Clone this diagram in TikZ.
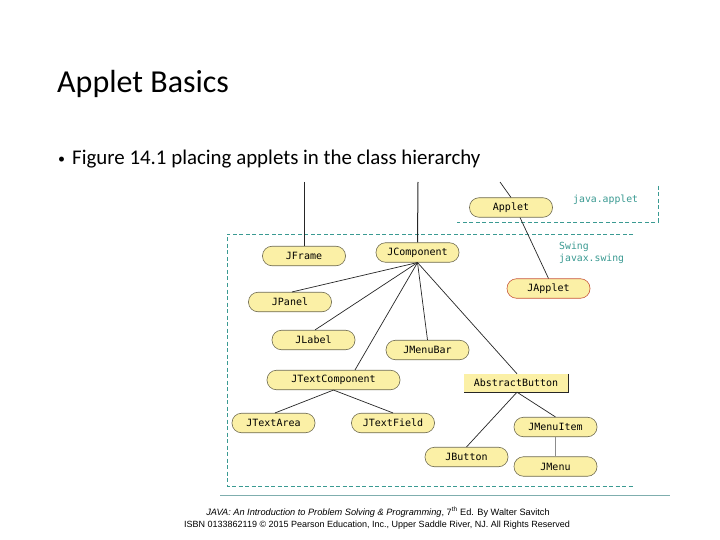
\documentclass[tikz,border=0pt]{standalone}
\usepackage{fontspec}
\setmainfont{Carlito}
\newfontfamily\monof{DejaVu Sans Mono}
\newfontfamily\footf{Liberation Sans}
\usetikzlibrary{calc}
\definecolor{pillfill}{HTML}{FBF0A6}
\definecolor{pilldraw}{HTML}{6E6A50}
\definecolor{tealc}{HTML}{3A9A92}
\definecolor{linec}{HTML}{7FAEAE}
\definecolor{japc}{HTML}{C8553A}
\begin{document}
\begin{tikzpicture}[x=1pt,y=-1pt,
  pill/.style={draw=pilldraw,fill=pillfill,rounded corners=9.5pt,line width=0.6pt,
    minimum width=83pt,minimum height=19.5pt,inner sep=0pt,font=\monof\fontsize{10}{11}\selectfont},
  absbox/.style={fill=pillfill,minimum width=104pt,minimum height=18pt,inner sep=0pt,
    font=\monof\fontsize{10}{11}\selectfont},
  edge/.style={draw=black!85,line width=0.7pt},
  teallab/.style={text=tealc,font=\monof\fontsize{9.8}{11.5}\selectfont,inner sep=0pt,anchor=west,align=left},
  dashb/.style={draw=tealc,dashed,dash pattern=on 4pt off 2.5pt,line width=0.7pt}
]
\useasboundingbox (0,0) rectangle (720,540);
\fill[white] (0,0) rectangle (720,540);

% titles
\node[anchor=base west,inner sep=0pt,font=\fontsize{32}{36}\selectfont] (title) at (57,93) {Applet Basics};
\node[anchor=base west,inner sep=0pt,font=\fontsize{14}{16}\selectfont] (bulletmark) at (58,164) {\textbullet};
\node[anchor=base west,inner sep=0pt,font=\fontsize{20.9}{24}\selectfont] (bullet) at (72,165) {Figure 14.1 placing applets in the class hierarchy};

% package boundaries
\draw[dashb] (658,186) -- (658,222) -- (457,222);
\draw[dashb] (633,234) -- (227,234) -- (227,486) -- (633,486);
\draw[draw=linec,line width=0.8pt] (220,495) -- (670,495);

\node[teallab] (japplet-lab) at (573,200) {java.applet};
\node[teallab] (swing-lab) at (559,253) {Swing\\javax.swing};

% nodes
\node[pill] (applet) at (511,207.5) {Applet};
\node[pill,draw=japc] (japplet) at (548.5,288.5) {JApplet};
\node[pill] (jframe) at (304,256) {JFrame};
\node[pill] (jcomp) at (417.5,252.5) {JComponent};
\node[pill] (jpanel) at (290,302) {JPanel};
\node[pill] (jlabel) at (313.5,340) {JLabel};
\node[pill] (jmenubar) at (427.5,350) {JMenuBar};
\node[pill,minimum width=133pt] (jtc) at (333.5,380) {JTextComponent};
\node[pill] (jtextarea) at (273.5,423) {JTextArea};
\node[pill] (jtextfield) at (393,423) {JTextField};
\node[absbox] (absb) at (516,383) {AbstractButton};
\draw[black!85,line width=0.8pt] (absb.north east) -- (absb.south east) -- (absb.south west);
\node[pill] (jbutton) at (466.5,457) {JButton};
\node[pill] (jmenuitem) at (555.5,427) {JMenuItem};
\node[pill] (jmenu) at (555.5,466.5) {JMenu};

% free ends at the top
\coordinate (topf) at (304,182);
\coordinate (topc) at (418,182);
\coordinate (topa) at (500,182);

% connectors
\draw[edge,line width=1pt] (topf) -- (jframe.north);
\draw[edge,line width=1pt] (topc) -- (jcomp.north);
\draw[edge] (topa) -- (applet.north);
\draw[edge] ([xshift=9pt]applet.south) -- (japplet.north);
\draw[edge] (jcomp.south) -- ([xshift=2pt]jpanel.north);
\draw[edge] (jcomp.south) -- ([xshift=1.5pt]jlabel.north);
\draw[edge] (jcomp.south) -- ([xshift=21.5pt]jtc.north);
\draw[edge] (jcomp.south) -- (jmenubar.north);
\draw[edge] (jcomp.south) -- ([xshift=1pt]absb.north);
\draw[edge] (jtc.south) -- ([xshift=1.5pt]jtextarea.north);
\draw[edge] (jtc.south) -- (jtextfield.north);
\draw[edge] ([xshift=1pt]absb.south) -- (jbutton.north);
\draw[edge] ([xshift=1pt]absb.south) -- (jmenuitem.north);
\draw[draw=black!45,line width=0.6pt] (jmenuitem.south) -- (jmenu.north);

% footer
\node[inner sep=0pt,anchor=base,font=\footf\fontsize{9.2}{10}\selectfont] (foot1) at (378,515)
  {\textit{JAVA: An Introduction to Problem Solving \& Programming}, 7\textsuperscript{th} Ed. By Walter Savitch};
\node[inner sep=0pt,anchor=base,font=\footf\fontsize{9}{10}\selectfont] (foot2) at (377,527)
  {ISBN 0133862119 © 2015 Pearson Education, Inc., Upper Saddle River, NJ. All Rights Reserved};
\end{tikzpicture}
\end{document}
